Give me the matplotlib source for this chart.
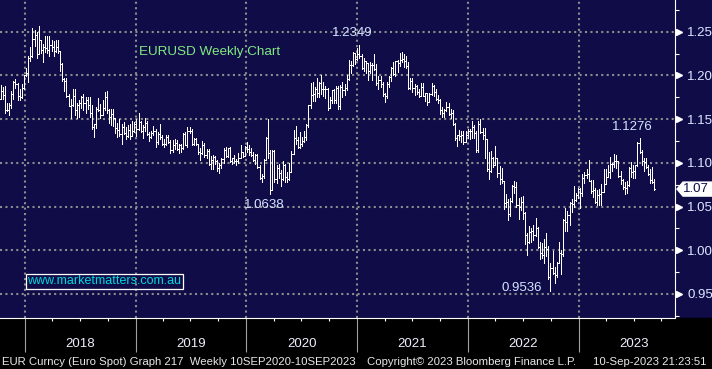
import numpy as np
import pandas as pd
import matplotlib
matplotlib.use("Agg")
import matplotlib.pyplot as plt
import matplotlib.dates as mdates
from matplotlib.patches import Rectangle, Polygon
from matplotlib.transforms import blended_transform_factory, IdentityTransform
from matplotlib.ticker import MultipleLocator, FormatStrFormatter

NAVY = "#0f0c48"
GRID = "#8c8c8c"
LABEL = "#dfe6ff"

# weekly EURUSD bars (Friday closes), Oct 2017 - Sep 2023
first_open = 1.173
closes = [
    # 2017
    1.182, 1.178, 1.161, 1.161, 1.166, 1.179, 1.193, 1.190, 1.177, 1.175, 1.186, 1.200,
    # 2018
    1.203, 1.220, 1.222, 1.242, 1.246, 1.225, 1.241, 1.229, 1.232, 1.231, 1.229, 1.235, 1.232,
    1.228, 1.233, 1.228, 1.213, 1.196, 1.194, 1.177, 1.165, 1.166, 1.177, 1.161, 1.166, 1.168,
    1.175, 1.168, 1.172, 1.166, 1.157, 1.141, 1.144, 1.162, 1.160, 1.155, 1.163, 1.175, 1.160,
    1.152, 1.156, 1.151, 1.140, 1.138, 1.133, 1.141, 1.134, 1.131, 1.138, 1.131, 1.137, 1.144,
    # 2019
    1.139, 1.147, 1.136, 1.141, 1.146, 1.133, 1.130, 1.134, 1.137, 1.124, 1.133, 1.130, 1.122,
    1.122, 1.130, 1.124, 1.115, 1.120, 1.123, 1.116, 1.120, 1.117, 1.133, 1.121, 1.137, 1.137,
    1.122, 1.127, 1.122, 1.113, 1.111, 1.120, 1.109, 1.114, 1.099, 1.103, 1.107, 1.102, 1.094,
    1.098, 1.104, 1.115, 1.108, 1.117, 1.102, 1.105, 1.102, 1.102, 1.106, 1.112, 1.108, 1.118,
    # 2020
    1.116, 1.112, 1.109, 1.103, 1.109, 1.095, 1.083, 1.085, 1.103, 1.128, 1.111, 1.069, 1.114,
    1.081, 1.094, 1.088, 1.082, 1.098, 1.084, 1.082, 1.090, 1.110, 1.129, 1.126, 1.118, 1.122,
    1.125, 1.130, 1.143, 1.166, 1.178, 1.179, 1.184, 1.180, 1.191, 1.184, 1.185, 1.184, 1.163,
    1.172, 1.183, 1.172, 1.186, 1.165, 1.187, 1.183, 1.186, 1.196, 1.212, 1.212, 1.226, 1.219,
    # 2021
    1.224, 1.222, 1.208, 1.217, 1.214, 1.205, 1.212, 1.212, 1.207, 1.191, 1.195, 1.190, 1.179,
    1.176, 1.190, 1.198, 1.209, 1.202, 1.216, 1.214, 1.218, 1.219, 1.217, 1.211, 1.186, 1.194,
    1.186, 1.188, 1.181, 1.177, 1.187, 1.176, 1.180, 1.170, 1.179, 1.188, 1.181, 1.173, 1.172,
    1.160, 1.157, 1.160, 1.164, 1.156, 1.157, 1.144, 1.129, 1.132, 1.131, 1.132, 1.124, 1.132,
    1.137,
    # 2022
    1.136, 1.141, 1.134, 1.115, 1.145, 1.135, 1.132, 1.127, 1.093, 1.091, 1.105, 1.098, 1.105,
    1.088, 1.081, 1.079, 1.054, 1.055, 1.041, 1.056, 1.073, 1.072, 1.052, 1.050, 1.055, 1.043,
    1.018, 1.009, 1.021, 1.022, 1.018, 1.026, 1.004, 0.997, 0.995, 1.004, 1.002, 0.969, 0.980,
    0.974, 0.972, 0.986, 0.997, 0.996, 1.035, 1.032, 1.040, 1.054, 1.053, 1.058, 1.063, 1.070,
    # 2023
    1.065, 1.083, 1.086, 1.087, 1.079, 1.068, 1.069, 1.055, 1.063, 1.064, 1.067, 1.076, 1.084,
    1.090, 1.099, 1.099, 1.102, 1.102, 1.085, 1.080, 1.072, 1.071, 1.075, 1.094, 1.089, 1.091,
    1.097, 1.123, 1.112, 1.102, 1.101, 1.095, 1.087, 1.080, 1.078, 1.070,
]
highs = [
    1.189, 1.187, 1.188, 1.169, 1.169, 1.182, 1.194, 1.196, 1.191, 1.185, 1.190, 1.201,
    1.209, 1.222, 1.232, 1.254, 1.252, 1.250, 1.256, 1.241, 1.236, 1.245, 1.245, 1.245, 1.240,
    1.239, 1.240, 1.240, 1.228, 1.214, 1.197, 1.197, 1.179, 1.173, 1.185, 1.185, 1.168, 1.172,
    1.177, 1.179, 1.175, 1.175, 1.175, 1.166, 1.145, 1.164, 1.174, 1.167, 1.172, 1.181, 1.182,
    1.162, 1.162, 1.162, 1.149, 1.146, 1.150, 1.145, 1.147, 1.141, 1.143, 1.144, 1.148, 1.147,
    1.150, 1.157, 1.148, 1.143, 1.151, 1.148, 1.135, 1.137, 1.142, 1.139, 1.135, 1.145, 1.132,
    1.127, 1.132, 1.132, 1.126, 1.126, 1.127, 1.126, 1.122, 1.122, 1.134, 1.135, 1.141, 1.141,
    1.139, 1.129, 1.128, 1.122, 1.117, 1.125, 1.123, 1.116, 1.116, 1.108, 1.109, 1.108, 1.103,
    1.100, 1.106, 1.117, 1.118, 1.117, 1.118, 1.106, 1.109, 1.104, 1.111, 1.120, 1.113, 1.119,
    1.124, 1.121, 1.117, 1.112, 1.110, 1.110, 1.097, 1.087, 1.104, 1.130, 1.150, 1.115, 1.115,
    1.115, 1.097, 1.099, 1.092, 1.102, 1.099, 1.090, 1.100, 1.114, 1.138, 1.142, 1.130, 1.135,
    1.130, 1.137, 1.145, 1.166, 1.191, 1.192, 1.187, 1.197, 1.193, 1.201, 1.192, 1.188, 1.186,
    1.175, 1.183, 1.184, 1.188, 1.188, 1.189, 1.192, 1.190, 1.200, 1.218, 1.216, 1.227, 1.226,
    1.231, 1.235, 1.225, 1.220, 1.217, 1.214, 1.215, 1.214, 1.224, 1.213, 1.199, 1.199, 1.193,
    1.180, 1.192, 1.199, 1.210, 1.215, 1.217, 1.218, 1.226, 1.227, 1.225, 1.222, 1.215, 1.197,
    1.197, 1.190, 1.189, 1.184, 1.191, 1.191, 1.180, 1.179, 1.180, 1.191, 1.189, 1.185, 1.178,
    1.173, 1.164, 1.162, 1.170, 1.169, 1.162, 1.161, 1.146, 1.132, 1.138, 1.136, 1.136, 1.136,
    1.139,
    1.139, 1.148, 1.143, 1.136, 1.148, 1.150, 1.140, 1.140, 1.125, 1.112, 1.114, 1.107, 1.119,
    1.105, 1.096, 1.094, 1.079, 1.064, 1.059, 1.060, 1.075, 1.079, 1.078, 1.060, 1.061, 1.062,
    1.044, 1.020, 1.028, 1.026, 1.029, 1.037, 1.027, 1.009, 1.008, 1.013, 1.020, 1.005, 0.985,
    0.999, 0.981, 0.987, 1.009, 1.000, 1.036, 1.048, 1.045, 1.055, 1.059, 1.074, 1.066, 1.071,
    1.071, 1.087, 1.089, 1.093, 1.103, 1.080, 1.080, 1.071, 1.069, 1.070, 1.076, 1.093, 1.093,
    1.097, 1.107, 1.100, 1.110, 1.109, 1.101, 1.091, 1.082, 1.078, 1.079, 1.095, 1.101, 1.098,
    1.097, 1.124, 1.128, 1.115, 1.105, 1.106, 1.098, 1.093, 1.095, 1.081,
]
lows = [
    1.173, 1.173, 1.157, 1.159, 1.155, 1.163, 1.173, 1.186, 1.172, 1.172, 1.174, 1.185,
    1.199, 1.192, 1.216, 1.221, 1.234, 1.220, 1.224, 1.226, 1.215, 1.227, 1.226, 1.222, 1.228,
    1.222, 1.227, 1.226, 1.205, 1.194, 1.182, 1.175, 1.165, 1.151, 1.165, 1.155, 1.151, 1.153,
    1.163, 1.161, 1.157, 1.162, 1.153, 1.139, 1.130, 1.140, 1.159, 1.151, 1.155, 1.161, 1.157,
    1.146, 1.143, 1.142, 1.134, 1.130, 1.131, 1.122, 1.133, 1.127, 1.130, 1.127, 1.131, 1.135,
    1.131, 1.138, 1.135, 1.129, 1.137, 1.132, 1.125, 1.128, 1.132, 1.118, 1.122, 1.127, 1.121,
    1.118, 1.121, 1.123, 1.111, 1.113, 1.116, 1.115, 1.111, 1.112, 1.116, 1.120, 1.118, 1.134,
    1.121, 1.120, 1.120, 1.110, 1.103, 1.110, 1.107, 1.105, 1.098, 1.093, 1.093, 1.099, 1.091,
    1.088, 1.094, 1.100, 1.107, 1.107, 1.101, 1.099, 1.100, 1.098, 1.100, 1.106, 1.107, 1.108,
    1.113, 1.109, 1.108, 1.102, 1.099, 1.094, 1.082, 1.078, 1.083, 1.103, 1.106, 1.064, 1.069,
    1.078, 1.077, 1.083, 1.073, 1.080, 1.078, 1.078, 1.080, 1.089, 1.110, 1.122, 1.117, 1.117,
    1.119, 1.124, 1.126, 1.141, 1.163, 1.171, 1.171, 1.175, 1.175, 1.179, 1.176, 1.174, 1.161,
    1.164, 1.169, 1.169, 1.169, 1.162, 1.162, 1.175, 1.178, 1.183, 1.195, 1.203, 1.211, 1.213,
    1.218, 1.220, 1.207, 1.205, 1.203, 1.195, 1.203, 1.195, 1.206, 1.189, 1.184, 1.187, 1.176,
    1.170, 1.174, 1.187, 1.194, 1.200, 1.199, 1.204, 1.211, 1.215, 1.210, 1.209, 1.185, 1.185,
    1.181, 1.178, 1.179, 1.175, 1.176, 1.176, 1.171, 1.166, 1.170, 1.178, 1.177, 1.172, 1.169,
    1.156, 1.153, 1.152, 1.159, 1.155, 1.151, 1.143, 1.126, 1.119, 1.126, 1.124, 1.122, 1.124,
    1.128,
    1.127, 1.129, 1.129, 1.112, 1.113, 1.134, 1.127, 1.106, 1.091, 1.081, 1.090, 1.095, 1.097,
    1.084, 1.076, 1.077, 1.047, 1.049, 1.035, 1.039, 1.055, 1.065, 1.050, 1.036, 1.046, 1.036,
    1.007, 0.995, 1.008, 1.010, 1.012, 1.016, 1.003, 0.990, 0.991, 0.986, 0.994, 0.967, 0.954,
    0.973, 0.963, 0.970, 0.986, 0.973, 0.993, 1.022, 1.022, 1.029, 1.044, 1.050, 1.056, 1.060,
    1.048, 1.062, 1.077, 1.083, 1.079, 1.066, 1.061, 1.054, 1.052, 1.052, 1.052, 1.071, 1.076,
    1.084, 1.083, 1.091, 1.095, 1.094, 1.084, 1.076, 1.070, 1.064, 1.066, 1.073, 1.084, 1.083,
    1.083, 1.096, 1.111, 1.097, 1.091, 1.094, 1.086, 1.077, 1.077, 1.069,
]

# labelled extremes: (week, value, where the label sits)
extremes = [("2021-01-08", 1.2349, "above"), ("2020-03-20", 1.0638, "below"),
            ("2022-09-30", 0.9536, "left"), ("2023-07-21", 1.1276, "above")]
years = [2018, 2019, 2020, 2021, 2022, 2023]

title = "EURUSD Weekly Chart"
site = "www.marketmatters.com.au"
footer_left = "EUR Curncy (Euro Spot) Graph 217  Weekly 10SEP2020-10SEP2023"
footer_mid = "Copyright\u00a9 2023 Bloomberg Finance L.P."
footer_right = "10-Sep-2023 21:23:51"

dates = pd.date_range("2017-10-13", periods=len(closes), freq="W-FRI")
x = mdates.date2num(dates)
c = np.array(closes)
o = np.r_[first_open, c[:-1]]
h = np.maximum.reduce([np.array(highs), o, c])
l = np.minimum.reduce([np.array(lows), o, c])

plt.rcParams["font.family"] = ["Liberation Sans", "DejaVu Sans"]
W, H = 712, 369
fig = plt.figure(figsize=(W / 100, H / 100), dpi=100, facecolor=NAVY)
bot = 1 - 318.3 / H
ax = fig.add_axes([0, bot, 674.5 / W, 318.3 / H])
ax.set_facecolor(NAVY)
fig.patches.append(Rectangle((0, 0), 1, bot, transform=fig.transFigure,
                             color="black", zorder=-1))

# OHLC bars, 1px
bw = 0.72
ax.vlines(x, l, h, color="white", lw=bw, antialiased=False, zorder=3)
ax.hlines(o, x - 2.5, x, color="white", lw=bw, antialiased=False, zorder=3)
ax.hlines(c, x, x + 2.5, color="white", lw=bw, antialiased=False, zorder=3)

ax.set_xlim(mdates.date2num(pd.Timestamp("2017-10-11")),
            mdates.date2num(pd.Timestamp("2023-11-13")))
ax.set_ylim(0.9222, 1.2863)

ax.set_axisbelow(True)
ax.grid(True, which="major", color=GRID, linestyle=(0, (1, 1.6)), lw=1.5)

for s in ["top", "left"]:
    ax.spines[s].set_visible(False)
for s in ["right", "bottom"]:
    ax.spines[s].set_color("white")
    ax.spines[s].set_linewidth(0.8)

# right price axis
ax.yaxis.tick_right()
ax.yaxis.set_major_locator(MultipleLocator(0.05))
ax.yaxis.set_minor_locator(MultipleLocator(0.025))
ax.yaxis.set_major_formatter(FormatStrFormatter("%.2f"))
ax.tick_params(axis="y", which="major", length=0, pad=9, labelcolor=LABEL,
               labelsize=9.5)
ax.tick_params(axis="y", which="minor", length=3, color="white", width=0.8)
yt = [v for v in ax.get_yticks() if 0.94 < v < 1.26]
tr = blended_transform_factory(ax.transAxes, ax.transData)
ax.plot([1 + 4 / 674.5] * len(yt), yt, ls="", marker=">", ms=5, color="white",
        transform=tr, clip_on=False)

# time axis
ax.xaxis.set_major_locator(mdates.YearLocator())
ax.xaxis.set_minor_locator(mdates.MonthLocator(bymonth=[4, 7, 10]))
ax.tick_params(axis="x", which="major", length=24.5, color="#a0a0a0", width=0.8,
               labelbottom=False)
ax.tick_params(axis="x", which="minor", length=2.5, color="white", width=0.8)
tx = blended_transform_factory(ax.transData, fig.transFigure)
for yr in years:
    ax.text(mdates.date2num(pd.Timestamp(f"{yr}-07-02")), 1 - 344 / H, str(yr),
            transform=tx, ha="center", va="center", color="#eeeeff", fontsize=9.5)

# extreme labels
for d, v, where in extremes:
    xd = mdates.date2num(pd.Timestamp(d))
    if where == "above":
        kw = dict(xytext=(-7, 6), ha="center", va="bottom")
    elif where == "below":
        kw = dict(xytext=(-6, -4), ha="center", va="top")
    else:
        kw = dict(xytext=(-8, 3), ha="right", va="center")
    ax.annotate(f"{v:.4f}", xy=(xd, v), textcoords="offset pixels",
                color="#d6e4ff", fontsize=9.5, **kw)

fig.text(139 / W, 1 - 52 / H, title, color="#80e880", fontsize=9.7, va="center")
fig.text(27 / W, 1 - 281 / H, site, color="#00d8e0", fontsize=9, va="center",
         bbox=dict(boxstyle="square,pad=0.12", fc="none", ec="white", lw=0.9))

# last price marker
yd = ax.transData.transform((x[-1], c[-1]))[1]
fig.patches.append(Polygon([(677, yd), (683, yd + 7), (712, yd + 7), (712, yd - 7),
                            (683, yd - 7)], closed=True, fc="white", ec="white",
                           transform=IdentityTransform()))
fig.text(696 / W, yd / H, f"{c[-1]:.2f}", color=NAVY, fontsize=9.5, ha="center",
         va="center")

fig.text(2 / W, 1 - 362 / H, footer_left, color="#e8e8e8", fontsize=8.2, va="center")
fig.text(367 / W, 1 - 362 / H, footer_mid, color="#e8e8e8", fontsize=8.2, va="center")
fig.text(593 / W, 1 - 362 / H, footer_right, color="#e8e8e8", fontsize=8.2, va="center")

fig.savefig("out.png", dpi=100, facecolor=NAVY)
